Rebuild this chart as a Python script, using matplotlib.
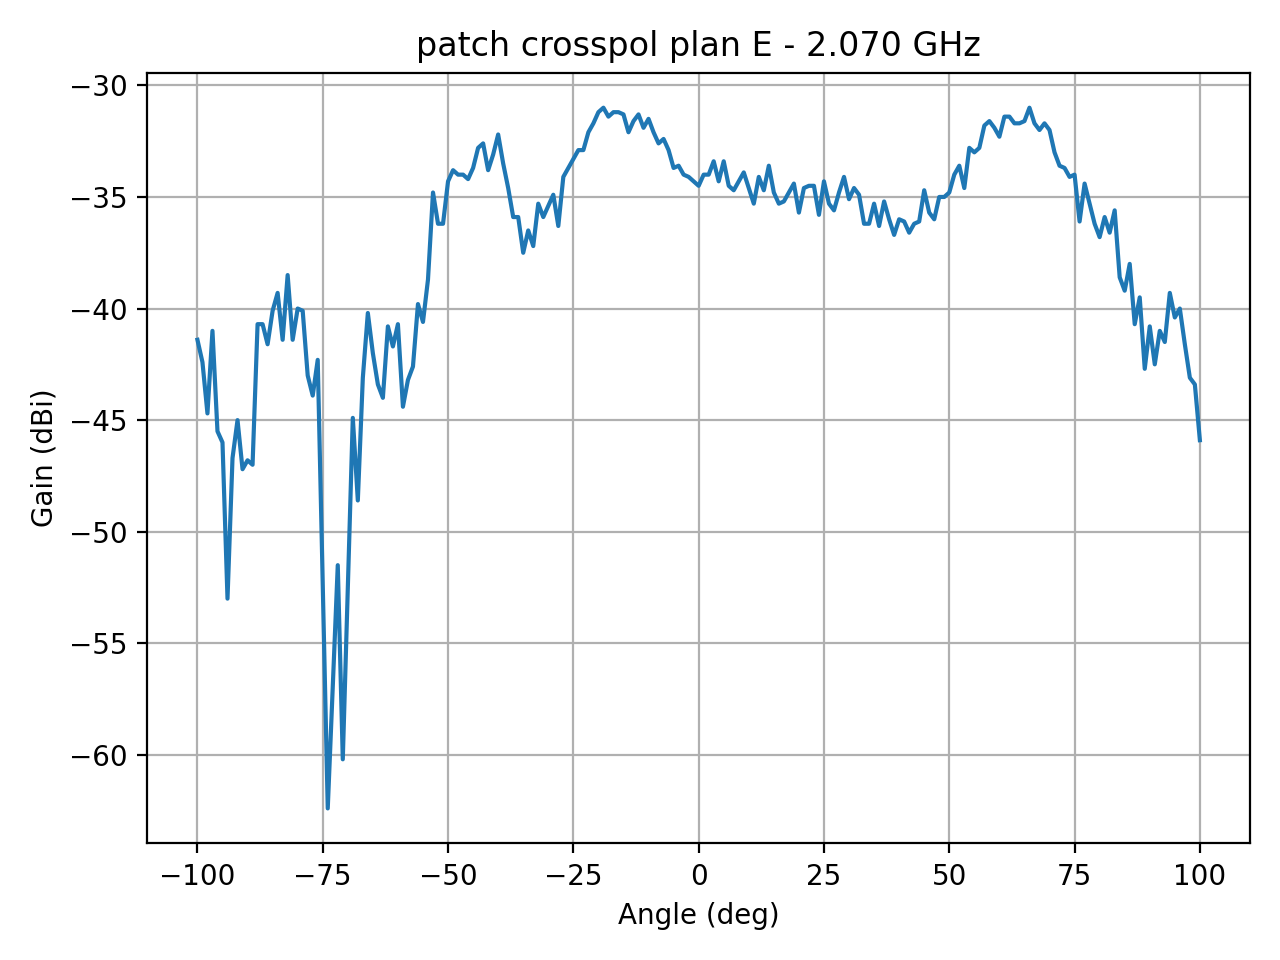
import numpy as np
import matplotlib
matplotlib.use('Agg')
import matplotlib.pyplot as plt

# angles -100..100 deg, 1 deg step
angles = np.arange(-100, 101)

gain_m100_m76 = [-41.4, -42.4, -44.7, -41.0, -45.5, -46.0, -53.0, -46.7, -45.0, -47.2,
                 -46.8, -47.0, -40.7, -40.7, -41.6, -40.1, -39.3, -41.4, -38.5, -41.4,
                 -40.0, -40.1, -43.0, -43.9, -42.3]
gain_m75_m51 = [-52.3, -62.4, -57.0, -51.5, -60.2, -52.5, -44.9, -48.6, -43.1, -40.2,
                -42.0, -43.4, -44.0, -40.8, -41.7, -40.7, -44.4, -43.2, -42.6, -39.8,
                -40.6, -38.7, -34.8, -36.2, -36.2]
gain_m50_m26 = [-34.3, -33.8, -34.0, -34.0, -34.2, -33.7, -32.8, -32.6, -33.8, -33.1,
                -32.2, -33.5, -34.6, -35.9, -35.9, -37.5, -36.5, -37.2, -35.3, -35.9,
                -35.4, -34.9, -36.3, -34.1, -33.7]
gain_m25_m1 = [-33.3, -32.9, -32.9, -32.1, -31.7, -31.2, -31.0, -31.4, -31.2, -31.2,
               -31.3, -32.1, -31.6, -31.3, -31.9, -31.5, -32.1, -32.6, -32.4, -32.9,
               -33.7, -33.6, -34.0, -34.1, -34.3]
gain_0_24 = [-34.5, -34.0, -34.0, -33.4, -34.3, -33.4, -34.5, -34.7, -34.3, -33.9,
             -34.6, -35.3, -34.1, -34.7, -33.6, -34.8, -35.3, -35.2, -34.8, -34.4,
             -35.7, -34.6, -34.5, -34.5, -35.8]
gain_25_49 = [-34.3, -35.3, -35.6, -34.8, -34.1, -35.1, -34.6, -34.9, -36.2, -36.2,
              -35.3, -36.3, -35.2, -36.0, -36.7, -36.0, -36.1, -36.6, -36.2, -36.1,
              -34.7, -35.7, -36.0, -35.0, -35.0]
gain_50_74 = [-34.8, -34.0, -33.6, -34.6, -32.8, -33.0, -32.8, -31.8, -31.6, -31.9,
              -32.3, -31.4, -31.4, -31.7, -31.7, -31.6, -31.0, -31.7, -32.0, -31.7,
              -32.0, -33.0, -33.6, -33.7, -34.1]
gain_75_100 = [-34.0, -36.1, -34.4, -35.3, -36.2, -36.8, -35.9, -36.6, -35.6, -38.6,
               -39.2, -38.0, -40.7, -39.5, -42.7, -40.8, -42.5, -41.0, -41.5, -39.3,
               -40.4, -40.0, -41.6, -43.1, -43.4, -45.9]

gain = (gain_m100_m76 + gain_m75_m51 + gain_m50_m26 + gain_m25_m1
        + gain_0_24 + gain_25_49 + gain_50_74 + gain_75_100)

fig, ax = plt.subplots(figsize=(6.4, 4.8), dpi=200)
ax.plot(angles, gain)
ax.set_title('patch crosspol plan E - 2.070 GHz')
ax.set_xlabel('Angle (deg)')
ax.set_ylabel('Gain (dBi)')
ax.grid(True)
fig.tight_layout()
fig.savefig('out.png')
